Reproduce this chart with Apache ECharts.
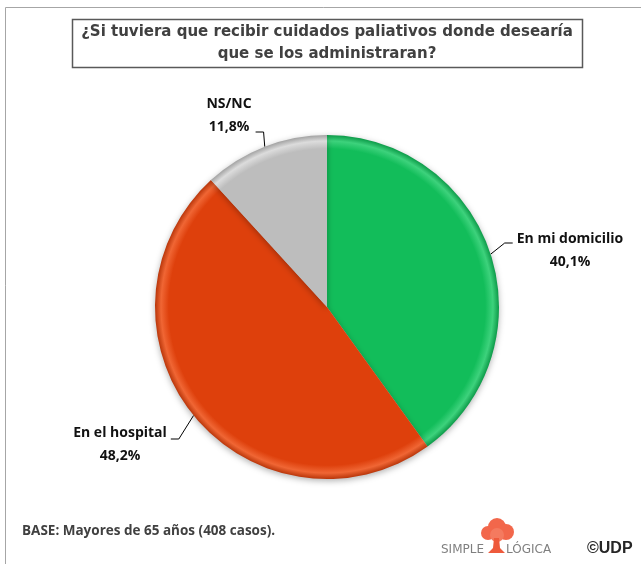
<!DOCTYPE html>
<html><head><meta charset="utf-8">
<script src="https://cdn.jsdelivr.net/npm/echarts@6/dist/echarts.min.js"></script>
<style>html,body{margin:0;padding:0;background:#fff}#c{width:641px;height:564px}</style>
</head><body><div id="c"></div>
<script>
// ---- data ----
const categories = ['En mi domicilio', 'En el hospital', 'NS/NC'];
const values = [40.1, 48.2, 11.8];
const titleLines = ['¿Si tuviera que recibir cuidados paliativos donde desearía', 'que se los administraran?'];
const baseNote = 'BASE: Mayores de 65 años (408 casos).';
const logoWords = ['SIMPLE', 'LÓGICA'];
const copyrightText = '©UDP';

// ---- styles / layout ----
const CX = 327, CY = 307, R = 172;
const palette = [
  { base: '#12BD5A', light: '#3DD27C', dark: '#0C9A48' },
  { base: '#DE400C', light: '#F06634', dark: '#B9360A' },
  { base: '#BDBDBD', light: '#DCDCDC', dark: '#A2A2A2' }
];
const labelAnchors = [
  { x: 570, y: 251, lineDy: -8, side: 'left' },
  { x: 120, y: 445, lineDy: -6, side: 'right' },
  { x: 229, y: 116, lineDy: 16, side: 'right' }
];
const fmtPct = v => v.toFixed(1).replace('.', ',') + '%';

function grad(p) {
  return {
    type: 'radial', x: CX, y: CY, r: R, global: true,
    colorStops: [
      { offset: 0, color: p.base },
      { offset: 0.92, color: p.base },
      { offset: 0.965, color: p.light },
      { offset: 1, color: p.dark }
    ]
  };
}

const chart = echarts.init(document.getElementById('c'), null, { renderer: 'canvas' });
chart.setOption({
  backgroundColor: '#ffffff',
  animation: false,
  graphic: [
    { type: 'polyline', shape: { points: [[5.5, 564], [5.5, 7.5], [641, 7.5]] },
      style: { stroke: '#A6A6A6', lineWidth: 1, fill: null }, z: 0 },
    { type: 'rect', shape: { x: 72.5, y: 19.5, width: 510, height: 48 },
      style: { stroke: '#595959', lineWidth: 1.5, fill: '#ffffff' }, z: 1 },
    { type: 'text', x: 327, y: 43, z: 2,
      style: { text: titleLines.join('\n'), align: 'center', verticalAlign: 'middle',
        font: 'bold 15px "DejaVu Sans"', lineHeight: 22, fill: '#404040' } },
    { type: 'text', x: 22, y: 531, z: 2,
      style: { text: baseNote, align: 'left', verticalAlign: 'middle',
        font: 'bold 13.5px "Open Sans"', fill: '#404040' } },
    // logo tree
    { type: 'group', z: 2, children: [
      { type: 'circle', shape: { cx: 488, cy: 533, r: 7 }, style: { fill: '#F2674B' } },
      { type: 'circle', shape: { cx: 497, cy: 527, r: 9 }, style: { fill: '#F2674B' } },
      { type: 'circle', shape: { cx: 506, cy: 532, r: 8 }, style: { fill: '#F2674B' } },
      { type: 'circle', shape: { cx: 497, cy: 535, r: 7 }, style: { fill: '#F47A5F' } },
      { type: 'polygon', shape: { points: [[494, 538], [499, 538], [500, 548], [505, 553], [488, 553], [493, 548]] },
        style: { fill: '#EE5A3C' } }
    ] },
    { type: 'text', x: 441, y: 550, z: 2,
      style: { text: logoWords[0], align: 'left', verticalAlign: 'middle',
        font: '12px "DejaVu Sans"', fill: '#7F7F7F' } },
    { type: 'text', x: 506, y: 550, z: 2,
      style: { text: logoWords[1], align: 'left', verticalAlign: 'middle',
        font: '12px "DejaVu Sans"', fill: '#7F7F7F' } },
    { type: 'text', x: 587, y: 549, z: 2,
      style: { text: copyrightText, align: 'left', verticalAlign: 'middle',
        font: 'bold 16px "Liberation Sans"', fill: '#262626' } }
  ],
  series: [{
    type: 'pie',
    center: [CX, CY],
    radius: R,
    startAngle: 90,
    clockwise: true,
    avoidLabelOverlap: false,
    data: categories.map((name, i) => ({
      name, value: values[i],
      itemStyle: { color: grad(palette[i]) }
    })),
    itemStyle: { shadowBlur: 6, shadowColor: 'rgba(0,0,0,0.3)', shadowOffsetY: 2 },
    emphasis: { disabled: true },
    label: {
      show: true, position: 'outside',
      formatter: p => '{n|' + p.name + '}\n{n|' + fmtPct(p.value) + '}',
      rich: {
        n: { fontFamily: 'Open Sans', fontWeight: 'bold', fontSize: 14, lineHeight: 23, color: '#111111', align: 'center' }
      }
    },
    labelLine: { show: true, length: 14, length2: 8, lineStyle: { color: '#000000', width: 1 } },
    labelLayout: function (p) {
      const a = labelAnchors[p.dataIndex];
      const w = p.labelRect.width;
      const res = { x: a.x, y: a.y, align: 'center', verticalAlign: 'middle' };
      if (p.labelLinePoints) {
        const pts = p.labelLinePoints.map(q => q.slice());
        const dir = a.side === 'left' ? -1 : 1;
        const edgeX = a.x + dir * (w / 2 + 4);
        const ly = a.y + a.lineDy;
        pts[2] = [edgeX, ly];
        pts[1] = [edgeX + dir * 8, ly];
        res.labelLinePoints = pts;
      }
      return res;
    }
  }]
});
</script>
</body></html>
